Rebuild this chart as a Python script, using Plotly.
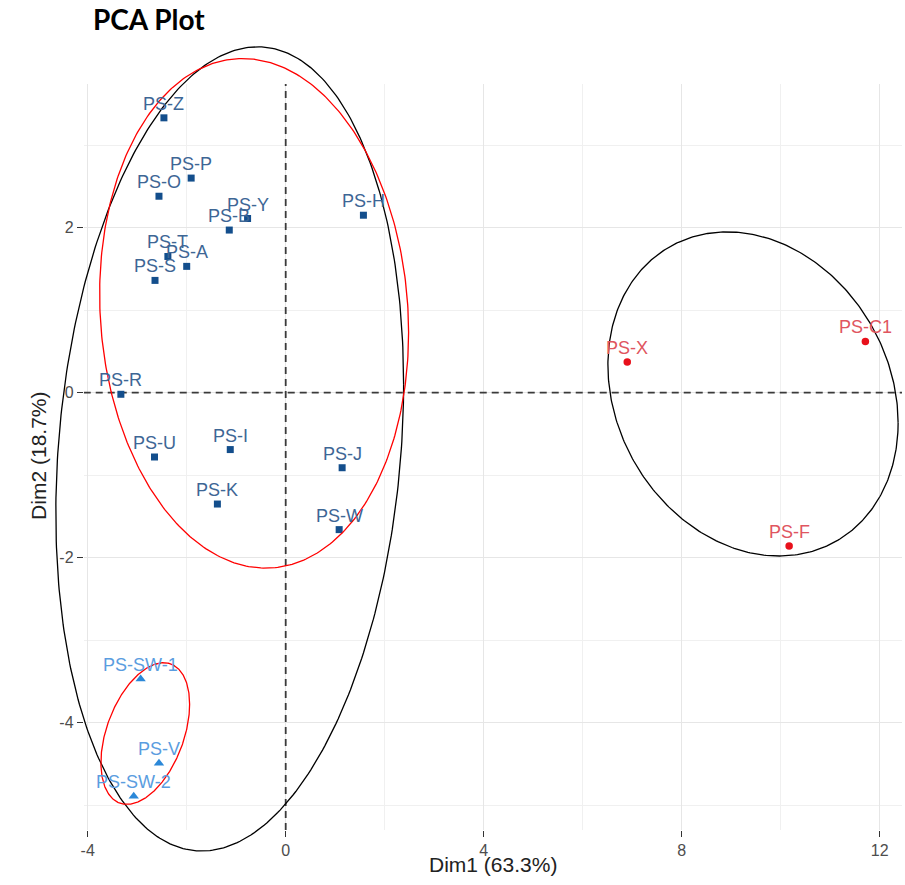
import numpy as np
import plotly.graph_objects as go

# ---------------- data ----------------
blue_labels = ["PS-Z", "PS-P", "PS-O", "PS-Y", "PS-B", "PS-H", "PS-T", "PS-A",
               "PS-S", "PS-R", "PS-U", "PS-I", "PS-J", "PS-K", "PS-W"]
blue_dim1 = [-2.46, -1.91, -2.56, -0.77, -1.14, 1.57, -2.38, -2.00,
             -2.64, -3.33, -2.65, -1.12, 1.14, -1.38, 1.08]
blue_dim2 = [3.33, 2.60, 2.38, 2.11, 1.97, 2.15, 1.65, 1.53,
             1.36, -0.02, -0.78, -0.69, -0.91, -1.35, -1.66]

sw_labels = ["PS-SW-1", "PS-V", "PS-SW-2"]
sw_dim1 = [-2.93, -2.56, -3.07]
sw_dim2 = [-3.47, -4.49, -4.89]

red_labels = ["PS-X", "PS-C1", "PS-F"]
red_dim1 = [6.90, 11.71, 10.17]
red_dim2 = [0.37, 0.62, -1.86]

x_tickvals = [-4, 0, 4, 8, 12]
x_ticktext = ["-4", "0", "4", "8", "12"]
y_tickvals = [-4, -2, 0, 2]
y_ticktext = ["-4", "-2", "0", "2"]
x_minor = [-2, 2, 6, 10]
y_minor = [-5, -3, -1, 1, 3]

x_title = "Dim1 (63.3%)"
y_title = "Dim2 (18.7%)"
title = "PCA Plot"

# ---------------- geometry / layout ----------------
SW, SH = 905, 885          # browser window
OFF = 0                    # page body margin (removed via post_script)
W, H = SW - OFF, SH - OFF  # figure size
L, R, T, B = 81, 902, 84, 830          # plot panel, window pixels
X_RANGE = [-4.08, 12.45]
Y_RANGE = [-5.30, 3.74]


def px(xs):
    return (xs - OFF) / W


def py(ys):
    return 1 - (ys - OFF) / H


kx = (R - L) / (X_RANGE[1] - X_RANGE[0])
ky = (B - T) / (Y_RANGE[1] - Y_RANGE[0])
X2_RANGE = [X_RANGE[0] - (L - OFF) / kx, X_RANGE[1] + (SW - R) / kx]
Y2_RANGE = [Y_RANGE[0] - (SH - B) / ky, Y_RANGE[1] + (T - OFF) / ky]

# hand-drawn ellipses (center, covariance-like shape)
ellipses = [
    dict(c=(-1.131, -0.682), sxx=12.34, syy=23.74, sxy=2.747, color="black"),
    dict(c=(-0.638, 0.961), sxx=9.738, syy=9.531, sxy=-0.721, color="#ff0000"),
    dict(c=(-2.837, -4.131), sxx=0.8027, syy=0.7365, sxy=0.317, color="#ff0000"),
    dict(c=(9.44, -0.016), sxx=8.593, syy=3.856, sxy=-1.028, color="black"),
]

font_main = "Liberation Sans, Arial, sans-serif"

fig = go.Figure()
annotations = []

groups = [
    (blue_dim1, blue_dim2, blue_labels, "square", 7, "#134e8c", "#3d6695"),
    (sw_dim1, sw_dim2, sw_labels, "triangle-up", 9, "#2b88d8", "#5a9de0"),
    (red_dim1, red_dim2, red_labels, "circle", 7.5, "#e8101b", "#e05560"),
]
for xs, ys, labs, sym, sz, mc, tc in groups:
    fig.add_trace(go.Scatter(
        x=xs, y=ys, mode="markers",
        marker=dict(symbol=sym, size=sz, color=mc, line=dict(width=0)),
        hoverinfo="skip", xaxis="x", yaxis="y", cliponaxis=False,
    ))
    for xv, yv, lab in zip(xs, ys, labs):
        annotations.append(dict(
            text=lab, x=xv, y=yv, xref="x", yref="y", showarrow=False,
            xanchor="center", yanchor="middle", yshift=14,
            font=dict(family=font_main, size=18, color=tc)))

t = np.linspace(0, 2 * np.pi, 400)
for e in ellipses:
    m00 = np.sqrt(e["sxx"])
    m10 = e["sxy"] / m00
    m11 = np.sqrt(e["syy"] - m10 ** 2)
    ex = e["c"][0] + m00 * np.cos(t)
    ey = e["c"][1] + m10 * np.cos(t) + m11 * np.sin(t)
    fig.add_trace(go.Scatter(
        x=ex, y=ey, mode="lines", line=dict(color=e["color"], width=1.3),
        hoverinfo="skip", xaxis="x2", yaxis="y2",
    ))

# dashed zero lines (between gridlines and markers)
dash_style = dict(color="#3a3a3a", width=1.8, dash="7px,5px")
fig.add_shape(type="line", xref="x", yref="y", x0=0, x1=0,
              y0=Y_RANGE[0], y1=Y_RANGE[1], line=dash_style, layer="between")
fig.add_shape(type="line", xref="x", yref="y", y0=0, y1=0,
              x0=X_RANGE[0], x1=X_RANGE[1], line=dash_style, layer="between")

axis_common = dict(
    showgrid=True, gridcolor="#e6e6e6", gridwidth=1.3,
    zeroline=False, showline=False,
    ticks="outside", ticklen=6, tickwidth=1.3, tickcolor="#333333",
    tickfont=dict(family=font_main, size=16, color="#4d4d4d"),
    tickmode="array", fixedrange=True,
)

annotations += [
    dict(text="<b>" + title + "</b>", xref="paper", yref="paper",
         x=px(88), y=py(19), xanchor="left", yanchor="middle",
         showarrow=False, font=dict(family="Lato, Open Sans, sans-serif",
                                    size=28, color="black")),
    dict(text=x_title, xref="paper", yref="paper",
         x=px((L + R) / 2), y=py(864), xanchor="center",
         yanchor="middle", showarrow=False,
         font=dict(family=font_main, size=21, color="#222222")),
    dict(text=y_title, xref="paper", yref="paper", textangle=-90,
         x=px(35), y=py(456), xanchor="center", yanchor="middle",
         showarrow=False,
         font=dict(family=font_main, size=21, color="#222222")),
]

fig.update_layout(
    width=W, height=H,
    margin=dict(l=0, r=0, t=0, b=0),
    paper_bgcolor="white", plot_bgcolor="rgba(0,0,0,0)",
    showlegend=False,
    xaxis=dict(axis_common, domain=[px(L), px(R)], range=X_RANGE,
               tickvals=x_tickvals, ticktext=x_ticktext, anchor="y",
               minor=dict(tickmode="array", tickvals=x_minor, showgrid=True,
                          gridcolor="#f0f0f0", gridwidth=1, ticks="")),
    yaxis=dict(axis_common, domain=[py(B), py(T)], range=Y_RANGE,
               tickvals=y_tickvals, ticktext=y_ticktext, anchor="x",
               minor=dict(tickmode="array", tickvals=y_minor, showgrid=True,
                          gridcolor="#f0f0f0", gridwidth=1, ticks="")),
    xaxis2=dict(domain=[0, 1], range=X2_RANGE, visible=False, anchor="y2",
                fixedrange=True),
    yaxis2=dict(domain=[0, 1], range=Y2_RANGE, visible=False, anchor="x2",
                fixedrange=True),
    annotations=annotations,
)

fig.write_html("out.html",
               config={"displayModeBar": False},
               post_script="document.body.style.margin='0px';")
